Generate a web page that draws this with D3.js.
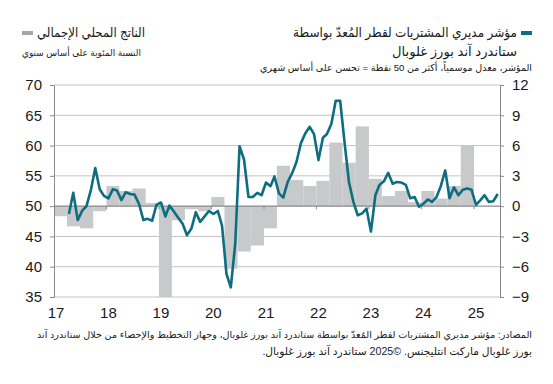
<!DOCTYPE html>
<html>
<head>
<meta charset="utf-8">
<script src="https://cdn.jsdelivr.net/npm/d3@7"></script>
<style>
  body { margin: 0; background: #fff; }
  #chart { width: 553px; height: 384px; }
  text { font-family: "Liberation Sans", Arial, "DejaVu Sans", sans-serif; fill: #1a1a1a; }
</style>
</head>
<body>
<div id="chart"></div>
<script>
// PMI, monthly, seasonally adjusted (left axis), from Apr 2017
const pmiStart = [2017, 3];
const pmiValues = [
  48.7, 52.2, 47.7, 49.2, 50.0, 52.7, 56.3, 52.8, 51.7,
  51.3, 52.8, 52.6, 51.0, 52.3, 52.0, 51.9, 50.4, 47.7, 47.9, 47.6, 50.2,
  50.6, 48.3, 50.1, 49.1, 48.1, 47.1, 45.2, 46.3, 49.0, 47.4, 48.3, 49.2,
  48.7, 49.2, 46.8, 38.8, 36.6, 43.8, 59.9, 57.7, 51.5, 51.5, 52.2, 51.8,
  53.9, 53.3, 54.9, 52.1, 51.4, 54.0, 55.4, 57.3, 60.4, 62.0, 63.1, 61.9,
  57.6, 61.3, 61.9, 63.6, 67.4, 67.4, 60.6, 54.0, 50.7, 48.5, 48.8, 49.6,
  45.8, 51.8, 53.5, 54.1, 55.5, 53.7, 54.0, 53.9, 53.5, 51.3, 51.5, 49.9,
  50.4, 51.1, 50.7, 51.5, 53.3, 55.9, 51.3, 53.1, 51.8, 52.7, 52.9, 52.7,
  50.2, 51.0, 51.8, 50.7, 50.8, 52.0
];

// GDP, % y/y, quarterly (right axis), from 2017 Q1
const gdpStart = 2017;
const gdpValues = [
  -1.0, -2.0, -2.2, -0.5,
  2.0, 1.5, 1.75, 0.3,
  -9.0, -1.4, -0.3, -0.5,
  0.9, -6.2, -4.5, -3.9,
  -2.2, 4.0, 2.6, 2.0,
  2.5, 6.3, 4.3, 7.9,
  2.7, 1.0, 1.5, 0.4,
  1.5, 0.75, 2.0, 6.0
];

const yearLabels = ["17", "18", "19", "20", "21", "22", "23", "24", "25"];
const leftTicks = [35, 40, 45, 50, 55, 60, 65, 70];
const rightTicks = [-9, -6, -3, 0, 3, 6, 9, 12];

const titlePmi = ["مؤشر مديري المشتريات لقطر المُعدّ بواسطة", "ستاندرد آند بورز غلوبال"];
const notePmi = "المؤشر، معدل موسمياً، أكثر من 50 نقطة = تحسن على أساس شهري";
const titleGdp = "الناتج المحلي الإجمالي";
const noteGdp = "النسبة المئوية على أساس سنوي";
const sourceLines = [
  "المصادر: مؤشر مديري المشتريات لقطر المُعدّ بواسطة ستاندرد آند بورز غلوبال، وجهاز التخطيط والإحصاء من خلال ستاندرد آند",
  "بورز غلوبال ماركت انتليجنس. ©2025 ستاندرد آند بورز غلوبال."
];

const width = 553, height = 384;
const margin = { left: 54, right: 53, top: 85, bottom: 87 };
const innerW = width - margin.left - margin.right;
const innerH = height - margin.top - margin.bottom;

const teal = "#0d6e82";
const barGrey = "#c8c9cb";

const svg = d3.select("#chart").append("svg")
  .attr("width", width)
  .attr("height", height);

const x = d3.scaleTime()
  .domain([new Date(2017, 0, 1), new Date(2025, 6, 1)])
  .range([0, innerW]);
const yL = d3.scaleLinear().domain([35, 70]).range([innerH, 0]);
const yR = d3.scaleLinear().domain([-9, 12]).range([innerH, 0]);

const pmi = pmiValues.map((v, i) => ({ date: new Date(pmiStart[0], pmiStart[1] + i, 15), value: v }));
const gdp = gdpValues.map((v, i) => ({
  start: new Date(gdpStart, i * 3, 1),
  end: new Date(gdpStart, i * 3 + 3, 1),
  value: v
}));

const g = svg.append("g").attr("transform", `translate(${margin.left},${margin.top})`);

// gridlines
g.append("g")
  .selectAll("line")
  .data(leftTicks.filter(d => d !== 50))
  .join("line")
  .attr("x1", 0).attr("x2", innerW)
  .attr("y1", d => yL(d)).attr("y2", d => yL(d))
  .attr("stroke", "#c4c4c4")
  .attr("stroke-width", 1);

// GDP bars
g.append("g")
  .selectAll("rect")
  .data(gdp)
  .join("rect")
  .attr("x", d => x(d.start))
  .attr("width", d => x(d.end) - x(d.start))
  .attr("y", d => yR(Math.max(0, d.value)))
  .attr("height", d => Math.abs(yR(d.value) - yR(0)))
  .attr("fill", barGrey);

// zero line + year ticks
g.append("line")
  .attr("x1", 0).attr("x2", innerW)
  .attr("y1", yL(50)).attr("y2", yL(50))
  .attr("stroke", "#8a8a8a")
  .attr("stroke-width", 1.3);

const years = yearLabels.map(d => new Date(2000 + +d, 0, 1));
g.append("g")
  .selectAll("line")
  .data(years.slice(1))
  .join("line")
  .attr("x1", d => x(d)).attr("x2", d => x(d))
  .attr("y1", yL(50)).attr("y2", yL(50) + 3)
  .attr("stroke", "#8a8a8a");

// PMI line
g.append("path")
  .datum(pmi)
  .attr("fill", "none")
  .attr("stroke", teal)
  .attr("stroke-width", 2.6)
  .attr("stroke-linejoin", "round")
  .attr("d", d3.line().x(d => x(d.date)).y(d => yL(d.value)));

// axes
const axisL = g.append("g")
  .call(d3.axisLeft(yL).tickValues(leftTicks).tickSize(4).tickPadding(8));
const axisR = g.append("g")
  .attr("transform", `translate(${innerW},0)`)
  .call(d3.axisRight(yR).tickValues(rightTicks).tickSize(4).tickPadding(8));
[axisL, axisR].forEach(a => {
  a.select(".domain").attr("stroke", "#8a8a8a");
  a.selectAll(".tick line").attr("stroke", "#8a8a8a");
  a.selectAll(".tick text")
    .attr("font-size", 15)
    .attr("font-family", "Liberation Sans, Arial, sans-serif")
    .attr("fill", "#1a1a1a");
});

g.append("g")
  .selectAll("text")
  .data(years)
  .join("text")
  .attr("x", d => x(d) + 2)
  .attr("y", innerH + 21)
  .attr("text-anchor", "middle")
  .attr("font-size", 15)
  .text((d, i) => yearLabels[i]);

// arabic text helper: right-anchored, shrunk a little then squeezed to the
// width it has in the original (DejaVu arabic runs wider than Arial)
function rtl_text(str, xr, y, size, fitW) {
  const t = svg.append("text")
    .attr("direction", "rtl")
    .attr("text-anchor", "start")
    .attr("x", xr).attr("y", y)
    .attr("font-size", size)
    .text(str);
  if (fitW) {
    const w = t.node().getComputedTextLength();
    if (w > fitW) {
      const fs = Math.max(size * fitW / w, size * 0.88);
      t.attr("font-size", fs);
      if (t.node().getComputedTextLength() > fitW)
        t.attr("textLength", fitW).attr("lengthAdjust", "spacingAndGlyphs");
    }
  }
  return t;
}

// legends / titles
svg.append("rect")
  .attr("x", 521).attr("y", 31).attr("width", 11).attr("height", 4)
  .attr("fill", teal);
rtl_text(titlePmi[0], 517, 37, 15, 224);
rtl_text(titlePmi[1], 517, 56, 15, 125);
rtl_text(notePmi, 532, 71, 11, 272);

svg.append("rect")
  .attr("x", 22).attr("y", 31).attr("width", 11).attr("height", 4)
  .attr("fill", "#a6a6a6");
rtl_text(titleGdp, 145, 37, 15, 108);
rtl_text(noteGdp, 141, 56, 11, 119);

// source
rtl_text(sourceLines[0], 532, 338, 11, 495);
rtl_text(sourceLines[1], 532, 355, 11, 270);
</script>
</body>
</html>
